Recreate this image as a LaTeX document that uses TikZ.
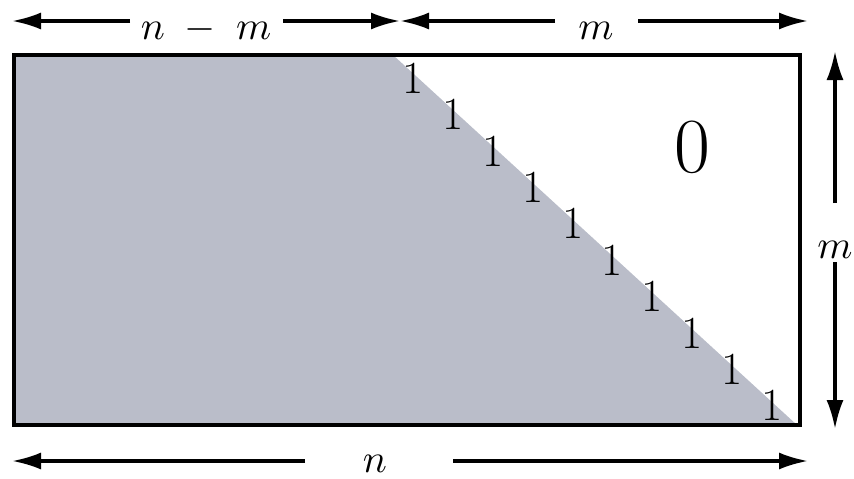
\documentclass[tikz,border=0pt]{standalone}
\usetikzlibrary{arrows.meta}
\DeclareFontShape{OML}{cmm}{m}{it}{<->cmmi10}{}
\DeclareFontShape{OMS}{cmsy}{m}{n}{<->cmsy10}{}
\DeclareFontShape{OT1}{cmr}{m}{n}{<->cmr10}{}
\definecolor{boxgray}{RGB}{186,189,201}
\begin{document}
\begin{tikzpicture}[x=1pt,y=-1pt,
  dim/.style={line width=3.2pt,-{Latex[length=29pt,width=17pt]}},
  lbl/.style={font=\fontsize{40}{40}\selectfont,inner sep=0pt,anchor=base},
  onelbl/.style={font=\fontsize{46}{46}\selectfont,inner sep=0pt},
  zerolbl/.style={font=\fontsize{78}{78}\selectfont,inner sep=0pt}]
\useasboundingbox (0,0) rectangle (854,479);
% shaded region and frame
\fill[boxgray] (14,55) -- (393,55) -- (797,425) -- (14,425) -- cycle;
\draw[line width=3.2pt] (14,55) rectangle (800,425);
% diagonal ones
\foreach \i in {0,...,9}
  \node[onelbl] (one\i) at ({413+39.9*\i},{78+36.4*\i}) {1};
\node[zerolbl] (zero) at (692,147) {0};
% top left dimension n-m
\node[lbl] (lnm) at (206,39) {$n\mskip5mu-\mskip5mu m$};
\coordinate (a1) at (12,21);
\coordinate (a2) at (400,21);
\coordinate (g1) at (130,21);
\coordinate (g2) at (283,21);
\draw[dim] (g1) -- (a1);
\draw[dim] (g2) -- (a2);
% top right dimension m
\node[lbl] (lm) at (596,39) {$m$};
\coordinate (b1) at (400,21);
\coordinate (b2) at (808,21);
\coordinate (h1) at (555,21);
\coordinate (h2) at (638,21);
\draw[dim] (h1) -- (b1);
\draw[dim] (h2) -- (b2);
% right dimension m
\node[lbl] (rm) at (835,258) {$m$};
\coordinate (c1) at (835,51);
\coordinate (c2) at (835,429);
\coordinate (k1) at (835,203);
\coordinate (k2) at (835,262);
\draw[dim] (k1) -- (c1);
\draw[dim] (k2) -- (c2);
% bottom dimension n
\node[lbl] (bn) at (375,472) {$n$};
\coordinate (d1) at (12,461);
\coordinate (d2) at (808,461);
\coordinate (m1) at (305,461);
\coordinate (m2) at (453,461);
\draw[dim] (m1) -- (d1);
\draw[dim] (m2) -- (d2);
\end{tikzpicture}
\end{document}
